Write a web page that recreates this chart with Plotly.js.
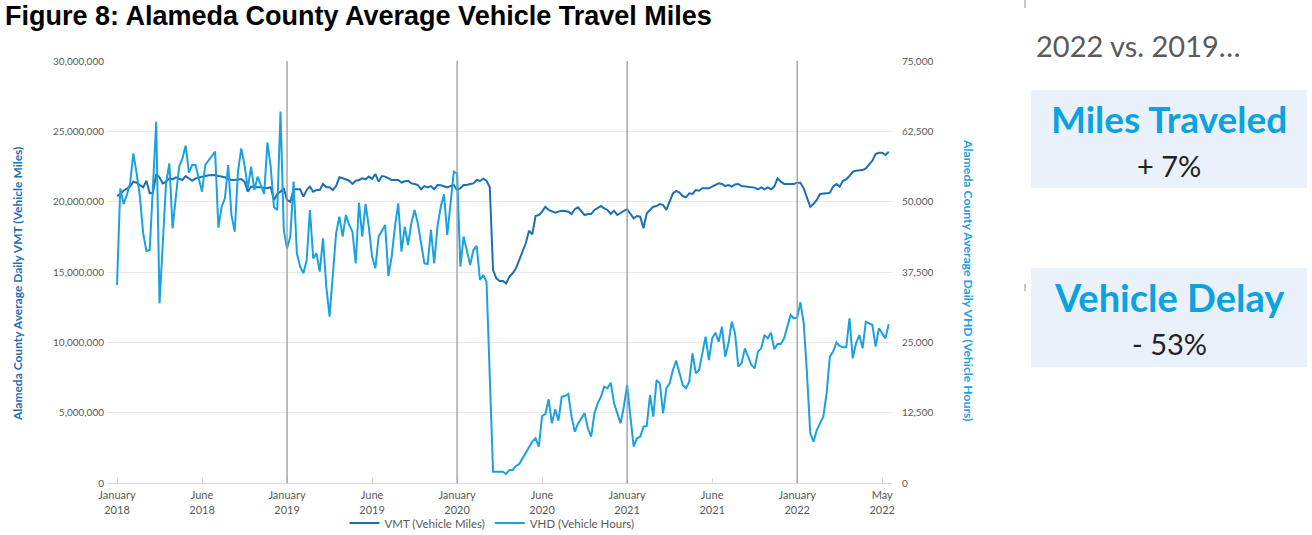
<!DOCTYPE html>
<html>
<head>
<meta charset="utf-8">
<script src="https://cdn.plot.ly/plotly-3.0.1.min.js"></script>
<style>
html,body{margin:0;padding:0;background:#ffffff;}
#chart{width:1312px;height:535px;}
</style>
</head>
<body>
<div id="chart"></div>
<script>
// Weekly series, first week starting January 2018
const firstWeek = '2018-01-01';

// Alameda County average daily VMT (vehicle miles), weekly
const vmt = [
20400000, 20550000, 20780000, 20950000, 21070000, 21420000, 21350000, 21180000, 21020000, 21490000,
20590000, 20640000, 21970000, 21730000, 21300000, 21420000, 21660000, 21590000, 21730000, 21630000,
21540000, 21820000, 21660000, 21490000, 21660000, 21730000, 21780000, 21820000, 21870000, 21900000,
21900000, 21820000, 21780000, 21730000, 21630000, 21540000, 21540000, 21590000, 21610000, 21420000,
20710000, 21070000, 21020000, 21020000, 21020000, 20970000, 20950000, 21020000, 20120000, 20550000,
20710000, 20950000, 20120000, 20000000, 20880000, 20880000, 20880000, 20360000, 20830000, 21070000,
20710000, 20830000, 20830000, 21260000, 21020000, 21020000, 20830000, 21110000, 21730000, 21660000,
21590000, 21490000, 21260000, 21490000, 21540000, 21660000, 21590000, 21780000, 21610000, 21970000,
21420000, 21820000, 21780000, 21660000, 21540000, 21540000, 21540000, 21350000, 21450000, 21490000,
21300000, 21260000, 21180000, 20880000, 21110000, 21020000, 21110000, 20880000, 21180000, 21160000,
21110000, 21020000, 21110000, 21180000, 20830000, 20950000, 21180000, 21180000, 21260000, 21300000,
21540000, 21470000, 21630000, 21490000, 21020000, 15140000, 14550000, 14360000, 14360000, 14190000,
14670000, 14910000, 15260000, 15850000, 16450000, 17040000, 17940000, 17680000, 18980000, 19050000,
19290000, 19640000, 19410000, 19290000, 19220000, 19290000, 19360000, 19340000, 19290000, 19120000,
19460000, 19600000, 19290000, 19050000, 19120000, 19120000, 19410000, 19550000, 19690000, 19530000,
19410000, 19120000, 19360000, 19050000, 19220000, 19340000, 19460000, 19120000, 18810000, 18980000,
18930000, 18110000, 19170000, 19410000, 19640000, 19690000, 19830000, 19760000, 19410000, 20000000,
20590000, 20760000, 20640000, 20400000, 20310000, 20590000, 20550000, 20830000, 20780000, 20950000,
20950000, 20950000, 21070000, 21180000, 21300000, 21260000, 21110000, 21180000, 21070000, 21230000,
21260000, 21110000, 21070000, 21040000, 21020000, 21000000, 20880000, 21020000, 20880000, 21020000,
20880000, 21070000, 21660000, 21420000, 21260000, 21260000, 21260000, 21260000, 21350000, 21350000,
20950000, 20360000, 19640000, 19830000, 20120000, 20550000, 20550000, 20590000, 20640000, 21070000,
21260000, 21070000, 21490000, 21590000, 21820000, 22130000, 22200000, 22200000, 22250000, 22370000,
22610000, 22910000, 23390000, 23480000, 23480000, 23320000, 23550000
];

// Alameda County average daily VHD (vehicle hours), weekly
const vhd = [
35190, 52370, 49590, 51190, 53260, 58590, 55040, 50890, 44370, 41230,
41410, 53260, 64220, 31930, 43190, 53260, 56810, 45260, 50890, 56220,
57700, 59950, 55160, 56520, 56520, 53850, 51780, 56520, 57410, 58120,
58890, 45380, 49110, 50590, 56520, 47630, 44670, 55330, 59480, 56520,
52370, 56220, 52070, 54450, 52900, 51360, 60490, 56220, 48990, 48520,
66000, 44970, 41710, 43780, 53560, 40820, 38450, 37260, 39630, 48520,
39930, 40820, 37560, 43480, 34890, 29560, 36970, 44370, 47330, 43780,
47630, 45850, 44670, 39040, 49820, 43780, 49590, 45560, 40230, 38150,
43780, 44850, 45850, 36790, 40230, 45560, 49710, 41110, 45560, 42300,
46150, 48520, 46150, 42600, 39040, 38920, 44970, 39040, 45560, 49110,
51300, 44080, 49710, 55330, 55040, 38450, 43780, 41410, 38750, 41410,
42120, 36080, 36970, 35780, 19490, 2010, 2010, 2010, 2010, 1600,
2310, 2310, 3020, 3380, 4380, 5270, 6160, 7350, 7940, 6460,
11910, 12260, 14870, 10600, 13090, 11080, 15340, 15460, 15820, 11790,
9120, 10600, 11490, 12380, 9720, 8230, 12380, 14160, 15340, 17120,
16830, 17830, 14160, 12380, 10600, 13570, 17420, 11790, 6460, 7940,
8230, 10010, 10130, 15640, 11790, 18310, 17710, 12380, 16830, 17710,
20080, 21740, 19490, 17420, 16830, 18010, 23050, 19490, 20080, 23050,
26010, 21860, 25710, 26720, 25120, 27790, 22450, 24820, 28670, 26600,
20680, 21270, 23930, 22450, 20970, 20380, 23340, 23930, 26300, 25710,
26720, 23760, 24700, 24700, 25710, 27790, 29860, 29270, 29380, 32110,
28380, 19490, 8830, 7350, 9420, 10600, 11790, 15940, 22450, 23340,
24940, 24350, 24110, 24110, 29270, 22160, 24820, 26300, 23930, 28670,
28380, 28080, 24230, 27490, 26600, 25710, 28200
];

// Tick labels (at the week they label) and January year markers
const tickWeeks = [0, 26, 52, 78, 104, 130, 156, 182, 208, 234];
const tickLabels = ['January<br>2018', 'June<br>2018', 'January<br>2019', 'June<br>2019', 'January<br>2020',
                    'June<br>2020', 'January<br>2021', 'June<br>2021', 'January<br>2022', 'May<br>2022'];
const yearMarkWeeks = [52, 104, 156, 208];

const seriesNames = ['VMT (Vehicle Miles)', 'VHD (Vehicle Hours)'];
const sideTitle = '2022 vs. 2019…';
const kpiLabels = ['Miles Traveled', 'Vehicle Delay'];
const kpiValues = ['+ 7%', '- 53%'];

const DAY = 86400000;
const t0 = Date.parse(firstWeek + 'T00:00:00Z');
function weekDate(i) {
  return new Date(t0 + i * 7 * DAY).toISOString().replace('T', ' ').slice(0, 19);
}
const weeks = vmt.map((_, i) => weekDate(i));

// plot area in pixels (for paper coordinates of side items)
const L = 107, R = 892, T = 61, B = 483;
const px = x => (x - L) / (R - L);
const py = y => (B - y) / (B - T);

const VMT_COLOR = '#1D6FB3', VHD_COLOR = '#1BA1E0';
const yTickFont = {family: 'Lato, sans-serif', size: 10, color: '#595959'};
const xTickFont = {family: 'Lato, sans-serif', size: 11, color: '#595959'};

const traces = [
  {x: weeks, y: vmt, name: seriesNames[0], type: 'scatter', mode: 'lines',
   line: {color: VMT_COLOR, width: 2}, yaxis: 'y'},
  {x: weeks, y: vhd, name: seriesNames[1], type: 'scatter', mode: 'lines',
   line: {color: VHD_COLOR, width: 2}, yaxis: 'y2'}
];

const shapes = yearMarkWeeks.map(i => ({
  type: 'line', xref: 'x', yref: 'paper', x0: weekDate(i), x1: weekDate(i), y0: 0, y1: 1,
  line: {color: '#9a9a9a', width: 1.3}, layer: 'above'
}));
shapes.push(
  {type: 'rect', xref: 'paper', yref: 'paper', x0: px(1031), x1: px(1307), y0: py(188), y1: py(90),
   fillcolor: '#EAF1FA', line: {width: 0}, layer: 'below'},
  {type: 'rect', xref: 'paper', yref: 'paper', x0: px(1031), x1: px(1307), y0: py(367), y1: py(268),
   fillcolor: '#EAF1FA', line: {width: 0}, layer: 'below'},
  {type: 'line', xref: 'paper', yref: 'paper', x0: px(1025), x1: px(1025), y0: py(0), y1: py(8),
   line: {color: '#c8c8c8', width: 2}},
  {type: 'line', xref: 'paper', yref: 'paper', x0: px(1025), x1: px(1025), y0: py(284), y1: py(291),
   line: {color: '#c8c8c8', width: 2}}
);

const annotations = [
  {text: '<b>Alameda County Average Daily VMT (Vehicle Miles)</b>', xref: 'paper', yref: 'paper',
   x: px(17), y: py(284), textangle: -90, showarrow: false, xanchor: 'center', yanchor: 'middle',
   font: {family: 'Lato, sans-serif', size: 12, color: VMT_COLOR}},
  {text: '<b>Alameda County Average Daily VHD (Vehicle Hours)</b>', xref: 'paper', yref: 'paper',
   x: px(969), y: py(280), textangle: 90, showarrow: false, xanchor: 'center', yanchor: 'middle',
   font: {family: 'Lato, sans-serif', size: 12.2, color: VHD_COLOR}},
  {text: sideTitle, xref: 'paper', yref: 'paper', x: px(1034), y: py(45), xanchor: 'left', yanchor: 'middle',
   showarrow: false, font: {family: 'Lato, sans-serif', size: 29, color: '#5a5a5a'}},
  {text: '<b>' + kpiLabels[0] + '</b>', xref: 'paper', yref: 'paper', x: px(1169), y: py(118),
   xanchor: 'center', yanchor: 'middle', showarrow: false,
   font: {family: 'Lato, sans-serif', size: 37, color: '#0AA3E0'}},
  {text: kpiValues[0], xref: 'paper', yref: 'paper', x: px(1169), y: py(165),
   xanchor: 'center', yanchor: 'middle', showarrow: false,
   font: {family: 'Lato, sans-serif', size: 29, color: '#222222'}},
  {text: '<b>' + kpiLabels[1] + '</b>', xref: 'paper', yref: 'paper', x: px(1169), y: py(297),
   xanchor: 'center', yanchor: 'middle', showarrow: false,
   font: {family: 'Lato, sans-serif', size: 38, color: '#0AA3E0'}},
  {text: kpiValues[1], xref: 'paper', yref: 'paper', x: px(1169), y: py(343),
   xanchor: 'center', yanchor: 'middle', showarrow: false,
   font: {family: 'Lato, sans-serif', size: 29, color: '#222222'}}
];

const layout = {
  width: 1312, height: 535,
  paper_bgcolor: '#ffffff', plot_bgcolor: '#ffffff',
  margin: {l: L, r: 1312 - R, t: T, b: 535 - B, autoexpand: false},
  title: {text: '<b>Figure 8: Alameda County Average Vehicle Travel Miles</b>',
          xref: 'container', yref: 'container', x: 5 / 1312, y: 1 - 16 / 535,
          xanchor: 'left', yanchor: 'middle',
          font: {family: 'Liberation Sans, Arial, sans-serif', size: 27, color: '#000000'}},
  showlegend: true,
  legend: {orientation: 'h', x: px(492), y: py(523), xanchor: 'center', yanchor: 'middle',
           font: {family: 'Lato, sans-serif', size: 11.5, color: '#595959'}, itemwidth: 30,
           bgcolor: 'rgba(0,0,0,0)'},
  xaxis: {type: 'date', range: [weekDate(-3.06), weekDate(237.0)],
          tickvals: tickWeeks.map(weekDate), ticktext: tickLabels,
          tickfont: xTickFont, showgrid: false, zeroline: false,
          showline: true, linecolor: '#d9d9d9', linewidth: 1,
          ticks: 'inside', ticklen: 5, tickcolor: '#d9d9d9', ticklabelstandoff: 2},
  yaxis: {range: [0, 30000000], dtick: 5000000, tickformat: ',d', tickfont: yTickFont,
          showgrid: true, gridcolor: '#e8e8e8', gridwidth: 1, zeroline: false, showline: false,
          ticks: '', ticklabelstandoff: 2},
  yaxis2: {range: [0, 75000], dtick: 12500, tickformat: ',d', tickfont: yTickFont,
           overlaying: 'y', side: 'right', showgrid: false, zeroline: false, showline: false,
           ticks: '', ticklabelstandoff: 9},
  shapes: shapes,
  annotations: annotations
};

Plotly.newPlot('chart', traces, layout, {displayModeBar: false, staticPlot: true});
</script>
</body>
</html>
